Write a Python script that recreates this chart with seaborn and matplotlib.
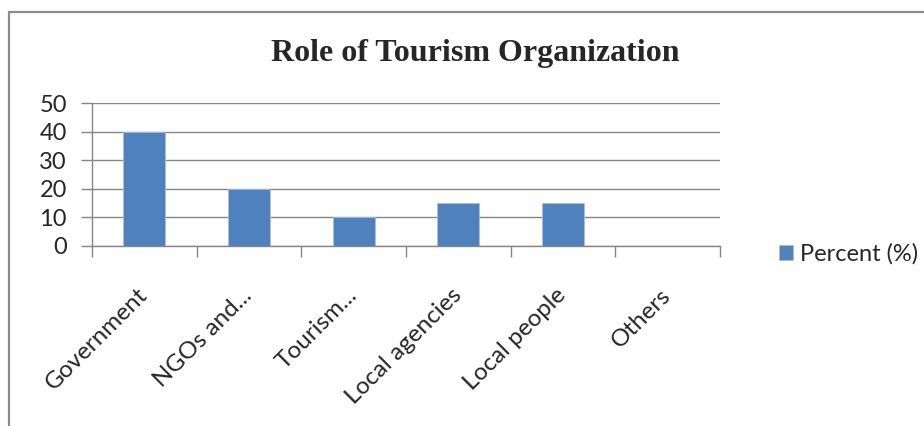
import numpy as np
import pandas as pd
import matplotlib
matplotlib.use('Agg')
import matplotlib.pyplot as plt
from matplotlib.patches import Rectangle
import seaborn as sns

# ===================== 数据 =====================
categories = ['Government', 'NGOs and...', 'Tourism...', 'Local agencies', 'Local people', 'Others']
percent = [40, 20, 10, 15, 15, 0]
y_ticks = [0, 10, 20, 30, 40, 50]
series_name = 'Percent (%)'
title = 'Role of Tourism Organization'

df = pd.DataFrame({'category': categories, 'percent': percent})

# ===================== 样式 =====================
sns.set_style('white')
plt.rcParams['font.family'] = ['Lato', 'DejaVu Sans']

W, H = 924, 426
fig = plt.figure(figsize=(W / 100, H / 100), dpi=100)
ax = fig.add_axes([92 / W, 1 - 246 / H, (720 - 92) / W, (246 - 103) / H])

grid_c = '#868686'
bar_c = '#4F81BD'

sns.barplot(data=df, x='category', y='percent', color=bar_c, width=0.4,
            saturation=1, edgecolor='#A7C0E0', linewidth=0.6,
            label=series_name, ax=ax, zorder=3)

ax.set_ylim(0, 50)
ax.set_yticks(y_ticks)
ax.set_xlim(-0.5, len(categories) - 0.5)
ax.yaxis.grid(True, color=grid_c, linewidth=1)
ax.set_axisbelow(True)

for s in ['top', 'right']:
    ax.spines[s].set_visible(False)
for s in ['left', 'bottom']:
    ax.spines[s].set_color(grid_c)
    ax.spines[s].set_linewidth(1)

ax.set_xlabel('')
ax.set_ylabel('')

# x 轴: 类别边界处的刻度线, 类别中心的标签
ax.set_xticks(np.arange(len(categories)))
ax.set_xticklabels(categories, rotation=45, ha='right', va='center',
                   rotation_mode='anchor', fontsize=17.5)
ax.set_xticks(np.arange(len(categories) + 1) - 0.5, minor=True)
ax.tick_params(axis='x', which='major', bottom=True, length=0, pad=33)
ax.tick_params(axis='x', which='minor', bottom=True, length=8, width=1,
               color=grid_c, direction='out')
ax.tick_params(axis='y', left=True, length=8, width=1, color=grid_c, direction='out',
               labelsize=17, pad=10)

ax.legend(loc='center left', bbox_to_anchor=(758 / W, 1 - 254 / H),
          bbox_transform=fig.transFigure, frameon=False, fontsize=17,
          handlelength=0.6, handleheight=0.6, handletextpad=0.3)

fig.text(475 / W, 1 - 54 / H, title, ha='center', va='center',
         fontsize=23, fontweight='bold', family=['Liberation Serif', 'DejaVu Serif'])

# 外框
fig.patches.append(Rectangle((9 / W, -0.1), 1.2, 1 - 12 / H + 0.1,
                             transform=fig.transFigure, fill=False,
                             edgecolor='#8C8C8C', linewidth=1.6))

fig.savefig('out.png', dpi=100)
plt.close(fig)
